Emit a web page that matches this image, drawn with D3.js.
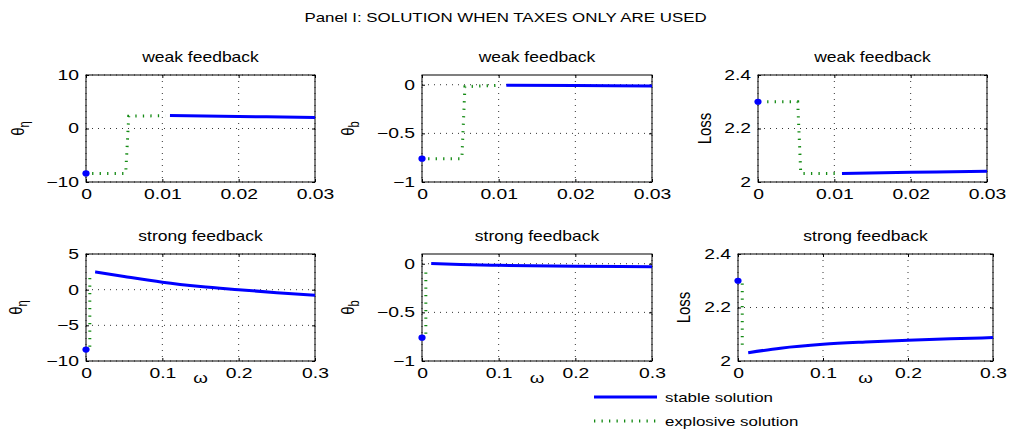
<!DOCTYPE html>
<html>
<head>
<meta charset="utf-8">
<script src="https://cdn.jsdelivr.net/npm/d3@7"></script>
<style>
  body { margin: 0; background: #fff; }
  text { font-family: "Liberation Sans", Arial, sans-serif; fill: #000; }
</style>
</head>
<body>
<div id="chart"></div>
<script>
// ---- tick values / axis limits
var weakOmegaTicks = [0, 0.01, 0.02, 0.03];
var strongOmegaTicks = [0, 0.1, 0.2, 0.3];
var weakEtaTicks = [-10, 0, 10];
var strongEtaTicks = [-10, -5, 0, 5];
var bTicks = [-1, -0.5, 0];
var lossTicks = [2, 2.2, 2.4];
var weakEtaLim = [-10, 10];
var strongEtaLim = [-10, 5];
var bLim = [-1, 0.1];
var lossLim = [2, 2.4];

// ---- weak feedback series [omega, value]
var weakEtaStart = [0, -8.4];
var weakEtaStable = [[0.011, 2.45], [0.02, 2.25], [0.03, 2.05]];
var weakEtaExplosive = [[0.0008, -8.4], [0.0052, -8.4], [0.0056, 2.3], [0.0104, 2.4]];
var weakBStart = [0, -0.76];
var weakBStable = [[0.011, -0.005], [0.02, -0.008], [0.03, -0.012]];
var weakBExplosive = [[0.0008, -0.76], [0.0052, -0.76], [0.0056, -0.02], [0.0102, -0.005]];
var weakLossStart = [0, 2.3];
var weakLossStable = [[0.011, 2.032], [0.02, 2.036], [0.03, 2.040]];
var weakLossExplosive = [[0.0012, 2.3], [0.0052, 2.3], [0.0056, 2.032], [0.0104, 2.032]];

// ---- strong feedback series
var strongEtaStart = [0, -8.4];
var strongEtaStable = [[0.012, 2.5], [0.05, 1.85], [0.1, 1.05], [0.15, 0.45], [0.2, 0.0], [0.25, -0.42], [0.3, -0.78]];
var strongEtaExplosive = [[0.005, -8.0], [0.005, 2.4]];
var strongBStart = [0, -0.76];
var strongBStable = [[0.012, 0.003], [0.05, -0.008], [0.1, -0.016], [0.2, -0.025], [0.3, -0.03]];
var strongBExplosive = [[0.005, -0.72], [0.005, -0.04]];
var strongLossStart = [0, 2.3];
var strongLossStable = [[0.012, 2.031], [0.05, 2.048], [0.1, 2.0625], [0.15, 2.071], [0.2, 2.0775], [0.25, 2.083], [0.3, 2.0875]];
var strongLossExplosive = [[0.005, 2.29], [0.005, 2.045]];

var legendLabels = ["stable solution", "explosive solution"];

var panels = [
  {title: "weak feedback", xt: weakOmegaTicks, yt: weakEtaTicks, lim: weakEtaLim, lab: ["θ", "η"], st: weakEtaStable, ex: weakEtaExplosive, s0: weakEtaStart},
  {title: "weak feedback", xt: weakOmegaTicks, yt: bTicks, lim: bLim, lab: ["θ", "b"], st: weakBStable, ex: weakBExplosive, s0: weakBStart},
  {title: "weak feedback", xt: weakOmegaTicks, yt: lossTicks, lim: lossLim, lab: ["Loss"], st: weakLossStable, ex: weakLossExplosive, s0: weakLossStart},
  {title: "strong feedback", xt: strongOmegaTicks, yt: strongEtaTicks, lim: strongEtaLim, lab: ["θ", "η"], st: strongEtaStable, ex: strongEtaExplosive, s0: strongEtaStart, omega: true},
  {title: "strong feedback", xt: strongOmegaTicks, yt: bTicks, lim: bLim, lab: ["θ", "b"], st: strongBStable, ex: strongBExplosive, s0: strongBStart, omega: true},
  {title: "strong feedback", xt: strongOmegaTicks, yt: lossTicks, lim: lossLim, lab: ["Loss"], st: strongLossStable, ex: strongLossExplosive, s0: strongLossStart, omega: true}
];

// layout: plot boxes and y-label offsets
var boxes = [
  {x0: 86, x1: 315, y0: 75, y1: 182, lx: -62},
  {x0: 422, x1: 652, y0: 75, y1: 182, lx: -68},
  {x0: 758, x1: 987, y0: 75, y1: 182, lx: -47},
  {x0: 86, x1: 315, y0: 254, y1: 361, lx: -64},
  {x0: 422, x1: 652, y0: 254, y1: 361, lx: -68},
  {x0: 738, x1: 993, y0: 254, y1: 361, lx: -48}
];

var SX = 1.25;         // text is drawn a bit wide, like the original export
var TSX = 1.38;        // tick labels are wider still
var FS = 14, TFS = 14;
var BLUE = "#0000ff", GREEN = "#138a13";

var svg = d3.select("#chart").append("svg")
  .attr("width", 1011).attr("height", 432);

function wideText(x, y, str, size, anchor, sx) {
  return svg.append("text")
    .attr("transform", "translate(" + x + "," + y + ") scale(" + (sx || SX) + ",1)")
    .attr("text-anchor", anchor || "middle")
    .style("font-size", (size || FS) + "px")
    .text(str);
}

wideText(505.5, 22, "Panel I: SOLUTION WHEN TAXES ONLY ARE USED", 13, "middle", 1.3);

var fmt = d3.format("~g");

panels.forEach(function (p, i) {
  var b = boxes[i];
  var x = d3.scaleLinear().domain(d3.extent(p.xt)).range([b.x0, b.x1]);
  var y = d3.scaleLinear().domain(p.lim).range([b.y1, b.y0]);
  var g = svg.append("g");

  // dotted grid
  g.selectAll(".gx").data(p.xt).enter().append("line")
    .attr("x1", x).attr("x2", x).attr("y1", b.y0).attr("y2", b.y1)
    .attr("stroke", "#000").attr("stroke-width", 0.8).attr("stroke-dasharray", "1,5");
  g.selectAll(".gy").data(p.yt).enter().append("line")
    .attr("y1", y).attr("y2", y).attr("x1", b.x0).attr("x2", b.x1)
    .attr("stroke", "#000").attr("stroke-width", 0.8).attr("stroke-dasharray", "1,5");

  // axes, ticks pointing inward
  var xb = g.append("g").attr("transform", "translate(0," + b.y1 + ")")
    .call(d3.axisBottom(x).tickValues(p.xt).tickFormat(fmt).tickSize(-3).tickPadding(7));
  var yl = g.append("g").attr("transform", "translate(" + b.x0 + ",0)")
    .call(d3.axisLeft(y).tickValues(p.yt).tickFormat(fmt).tickSize(-3).tickPadding(7));
  g.append("g").attr("transform", "translate(0," + b.y0 + ")")
    .call(d3.axisTop(x).tickValues(p.xt).tickFormat("").tickSize(-3));
  g.append("g").attr("transform", "translate(" + b.x1 + ",0)")
    .call(d3.axisRight(y).tickValues(p.yt).tickFormat("").tickSize(-3));
  g.selectAll(".domain").remove();
  g.selectAll(".tick line").attr("stroke", "#000");
  xb.selectAll("text").style("font-size", TFS + "px").style("font-family", null)
    .attr("transform", "scale(" + TSX + ",1)");
  yl.selectAll("text").style("font-size", TFS + "px").style("font-family", null)
    .attr("x", -7 / TSX).attr("transform", "scale(" + TSX + ",1)");

  g.append("rect").attr("x", b.x0).attr("y", b.y0)
    .attr("width", b.x1 - b.x0).attr("height", b.y1 - b.y0)
    .attr("fill", "none").attr("stroke", "#000").attr("stroke-width", 1);

  var line = d3.line().x(function (d) { return x(d[0]); }).y(function (d) { return y(d[1]); });

  g.append("path").datum(p.ex).attr("d", line.curve(d3.curveLinear))
    .attr("fill", "none").attr("stroke", GREEN).attr("stroke-width", 3)
    .attr("stroke-dasharray", "1.3,6.2");
  g.append("path").datum(p.st).attr("d", line.curve(d3.curveMonotoneX))
    .attr("fill", "none").attr("stroke", BLUE).attr("stroke-width", 3);
  g.append("ellipse").attr("cx", x(p.s0[0])).attr("cy", y(p.s0[1]))
    .attr("rx", 3.6).attr("ry", 3.1).attr("fill", BLUE);

  // titles and labels
  wideText((b.x0 + b.x1) / 2, b.y0 - 13, p.title);
  var lab = svg.append("text")
    .attr("transform", "translate(" + (b.x0 + b.lx) + "," + ((b.y0 + b.y1) / 2) + ") rotate(-90) scale(1," + SX + ")")
    .attr("text-anchor", "middle").style("font-size", "15px");
  lab.append("tspan").text(p.lab[0]);
  if (p.lab[1]) lab.append("tspan").attr("dy", 4).style("font-size", "11px").text(p.lab[1]);
  if (p.omega) wideText((b.x0 + b.x1) / 2, 383, "ω", 15);
});

// legend
var lg = svg.append("g");
lg.append("line").attr("x1", 594).attr("x2", 657).attr("y1", 397).attr("y2", 397)
  .attr("stroke", BLUE).attr("stroke-width", 3);
lg.append("line").attr("x1", 594).attr("x2", 657).attr("y1", 421).attr("y2", 421)
  .attr("stroke", GREEN).attr("stroke-width", 3).attr("stroke-dasharray", "1.3,6.2");
legendLabels.forEach(function (t, i) {
  wideText(665, 402 + i * 24, t, 13, "start", 1.3);
});
</script>
</body>
</html>
